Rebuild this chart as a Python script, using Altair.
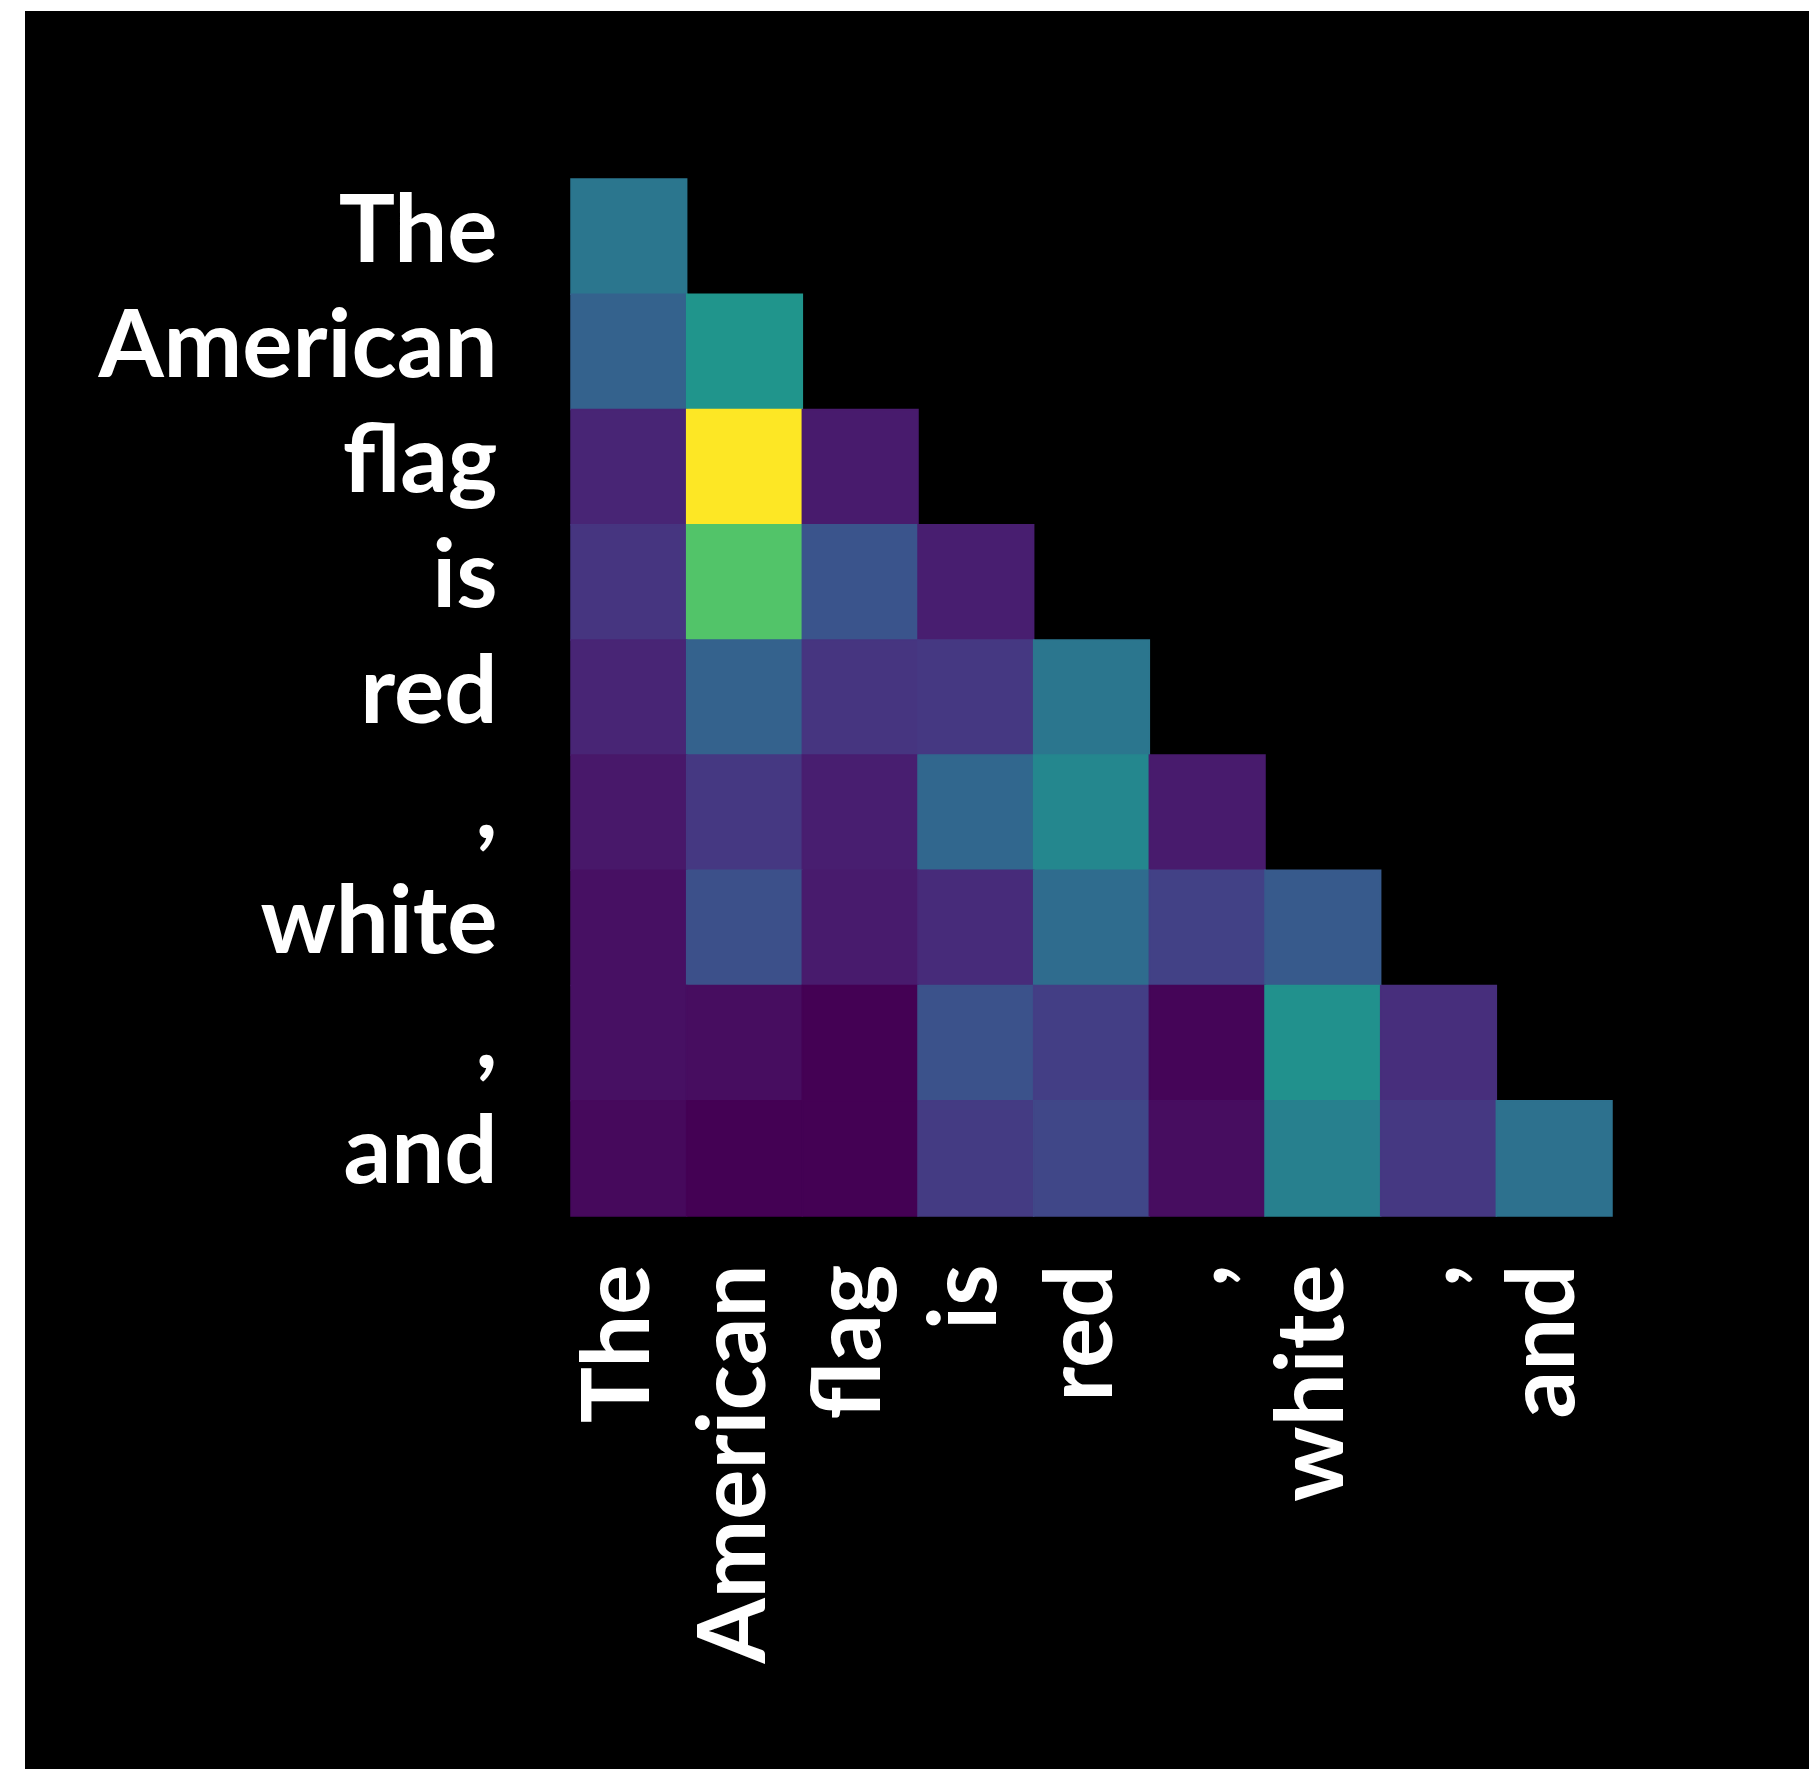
import altair as alt
import pandas as pd

tokens = ["The", "American", "flag", "is", "red", ",", "white", ",", "and"]

# lower-triangular attention weights (row = query token, col = key token)
weights = [
    [0.39],
    [0.31, 0.52],
    [0.10, 1.00, 0.07],
    [0.15, 0.73, 0.26, 0.08],
    [0.10, 0.31, 0.15, 0.16, 0.39],
    [0.06, 0.16, 0.08, 0.33, 0.46, 0.07],
    [0.04, 0.24, 0.07, 0.12, 0.35, 0.19, 0.28],
    [0.04, 0.03, 0.00, 0.25, 0.18, 0.01, 0.50, 0.13],
    [0.02, 0.00, 0.00, 0.17, 0.21, 0.03, 0.43, 0.16, 0.37],
]

records = []
for i, row in enumerate(weights):
    for j, w in enumerate(row):
        records.append({"row": i, "col": j, "w": w})
df = pd.DataFrame(records)

idx = list(range(len(tokens)))
label_expr = "[" + ",".join("'" + t + "'" for t in tokens) + "][datum.value]"

W, H = 1041, 1037
PAD = {"left": 571, "top": 179, "right": 1809 - 571 - W, "bottom": 1769 - 179 - H}

bg = alt.Chart(alt.Data(values=[{}])).mark_rect(color="black").encode(
    x=alt.value(25 - PAD["left"]),
    x2=alt.value(1809 - PAD["left"]),
    y=alt.value(11 - PAD["top"]),
    y2=alt.value(1769 - PAD["top"]),
)

axis_common = dict(
    labelExpr=label_expr,
    labelFont="Lato",
    labelFontWeight="bold",
    labelFontSize=94,
    labelColor="white",
    labelLimit=0,
    ticks=False,
    domain=False,
    grid=False,
    title=None,
    zindex=2,
)

vir = alt.Scale(scheme="viridis", domain=[0, 1])

heat = alt.Chart(df).mark_rect(strokeWidth=1.5).encode(
    x=alt.X("col:O", scale=alt.Scale(domain=idx, paddingInner=0, paddingOuter=0),
            axis=alt.Axis(labelAngle=-90, labelPadding=48, labelOffset=-8, **axis_common)),
    y=alt.Y("row:O", scale=alt.Scale(domain=idx, paddingInner=0, paddingOuter=0),
            axis=alt.Axis(labelPadding=74, labelOffset=-3, **axis_common)),
    color=alt.Color("w:Q", scale=vir, legend=None),
    stroke=alt.Stroke("w:Q", scale=vir, legend=None),
)

chart = alt.layer(bg, heat).properties(
    width=W,
    height=H,
    padding=PAD,
    autosize=alt.AutoSizeParams(type="none"),
    background="white",
).configure_view(strokeWidth=0)

chart.save("out.html", embed_options={"renderer": "svg", "actions": False})
